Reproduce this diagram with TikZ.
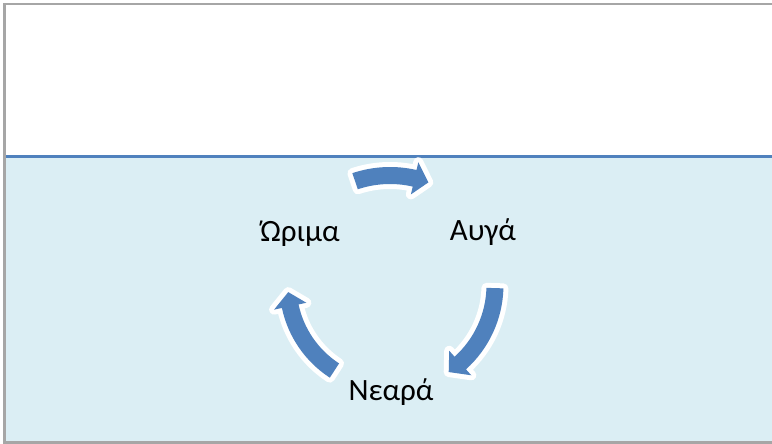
\documentclass[tikz,border=0pt]{standalone}
\usepackage{fontspec}
\setmainfont{Carlito}
\definecolor{bgblue}{HTML}{DBEEF4}
\definecolor{accent}{HTML}{4F81BD}
\definecolor{framegray}{HTML}{A6A6A6}
\newcommand{\cycarrow}[6]{%
  \path[arrowshape] (#1:#4+#5) arc[start angle=#1, end angle=#2, radius=#4+#5]
    -- (#2:#4+#6) -- (#3:#4) -- (#2:#4-#6) -- (#2:#4-#5)
    arc[start angle=#2, end angle=#1, radius=#4-#5] -- cycle;}
\tikzset{
  arrowshape/.style={fill=accent, preaction={draw=white, line width=10pt, line join=round}},
  label/.style={font=\fontsize{31}{37}\selectfont, anchor=base, inner sep=0pt}
}
\begin{document}
\begin{tikzpicture}[x=1pt,y=1pt]
\useasboundingbox (0,0) rectangle (772,444);
\fill[white] (0,0) rectangle (772,444);
\fill[bgblue] (5,1.5) rectangle (772,287.5);
\draw[accent, line width=3pt] (5,287.5) -- (772,287.5);
\draw[framegray, line width=2.5pt] (775,440) -- (4.5,440) -- (4.5,1.5) -- (775,1.5);
\begin{scope}[shift={(390,159)}]
  \cycarrow{108.6}{77}{69.5}{109.5}{8.5}{16.5}
  \cycarrow{-1.7}{-48}{-56}{105}{8.5}{16.5}
  \cycarrow{-123}{-168}{-176}{102}{8.5}{16.5}
\end{scope}
\node[label] (orima) at (300,202) {Ώριμα};
\node[label] (avga) at (483,203) {Αυγά};
\node[label] (neara) at (391,43) {Νεαρά};
\end{tikzpicture}
\end{document}
